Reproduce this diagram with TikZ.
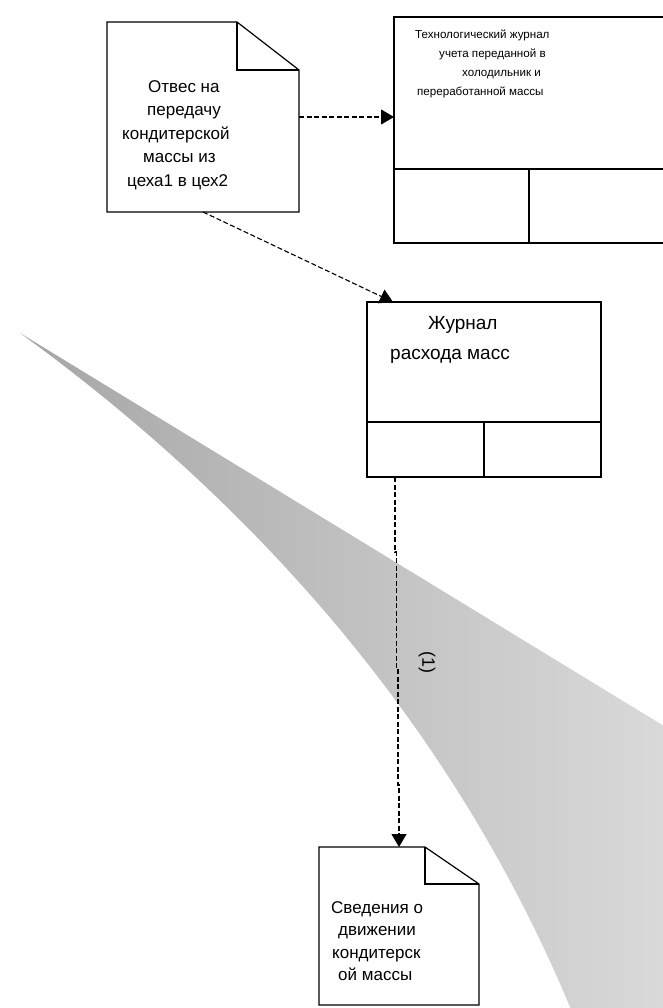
\documentclass[tikz,border=0pt]{standalone}
\usepackage{fontspec}
\setmainfont{Liberation Sans}
\usetikzlibrary{arrows.meta}
\definecolor{swdark}{RGB}{166,166,166}
\definecolor{swlight}{RGB}{220,220,220}
\begin{document}
\begin{tikzpicture}[x=1pt,y=-1pt,
  outline/.style={draw=black, line width=1.2pt, line join=miter},
  frame/.style={rectangle, inner sep=0pt, outer sep=0pt},
  flow/.style={draw=black, line width=1.1pt, dash pattern=on 5pt off 2.5pt,
    -{Triangle[length=13pt,width=15pt]}},
  txt/.style={align=left, inner sep=0pt, anchor=west}]
\useasboundingbox (0,0) rectangle (663,1008);
% gray swoosh
\shade[left color=swdark, right color=swlight]
  (20,333) -- (700,748) -- (700,1030) -- (578,1030) -- (570,1007)
  .. controls (450,720) and (250,500) .. (20,333) -- cycle;
% document 1
\node[frame, minimum width=192, minimum height=190] (doc1) at (203,117) {};
\draw[outline, fill=white] (107,22) -- (237,22) -- (299,70) -- (299,212) -- (107,212) -- cycle;
\draw[outline] (237,22) -- (237,70) -- (299,70);
\node[txt, font=\fontsize{17}{23.5}\selectfont] (doc1txt) at (122,135)
  {\hspace*{26pt}Отвес на\\\hspace*{25pt}передачу\\кондитерской\\\hspace*{21pt}массы из\\\hspace*{5pt}цеха1 в цех2};
% box 2
\node[frame, draw=black, line width=1.2pt, minimum width=272, minimum height=226, fill=white] (box2) at (530,130) {};
\draw[outline] (394,169) -- (666,169) (529,169) -- (529,243);
\node[txt, font=\fontsize{11.6}{19}\selectfont] (box2txt) at (415,63.5)
  {Технологический журнал\\\hspace*{24pt}учета переданной в\\\hspace*{47pt}холодильник и\\\hspace*{2pt}переработанной массы};
% box 3
\node[frame, draw=black, line width=1.2pt, minimum width=234, minimum height=175, fill=white] (box3) at (484,389.5) {};
\draw[outline] (367,422) -- (601,422) (484,422) -- (484,477);
\node[txt, font=\fontsize{19}{30}\selectfont] (box3txt) at (390,340)
  {\hspace*{38pt}Журнал\\расхода масс};
% document 4
\node[frame, minimum width=160, minimum height=158] (doc4) at (399,926) {};
\draw[outline, fill=white] (319,847) -- (425,847) -- (479,884) -- (479,1005) -- (319,1005) -- cycle;
\draw[outline] (425,847) -- (425,884) -- (479,884);
\node[txt, font=\fontsize{17}{22.3}\selectfont] (doc4txt) at (331,941)
  {Сведения о\\\hspace*{7pt}движении\\\hspace*{1pt}кондитерск\\\hspace*{7pt}ой массы};
% connectors
\draw[flow] (doc1.east) -- (doc1.east -| box2.west);
\draw[flow] (doc1.south) -- ([xshift=26pt]box3.north west);
\draw[flow] ([xshift=28pt]box3.south west) -- ++(0,75) -- ++(1.5,0) -- ++(0,116)
  -- ++(1.5,0) -- ++(0,117) -- ++(1,0) -- ([xshift=80pt]doc4.north west);
\node[rotate=-90, inner sep=0pt, font=\fontsize{18}{18}\selectfont] (lbl) at (427,662) {(1)};
\end{tikzpicture}
\end{document}
